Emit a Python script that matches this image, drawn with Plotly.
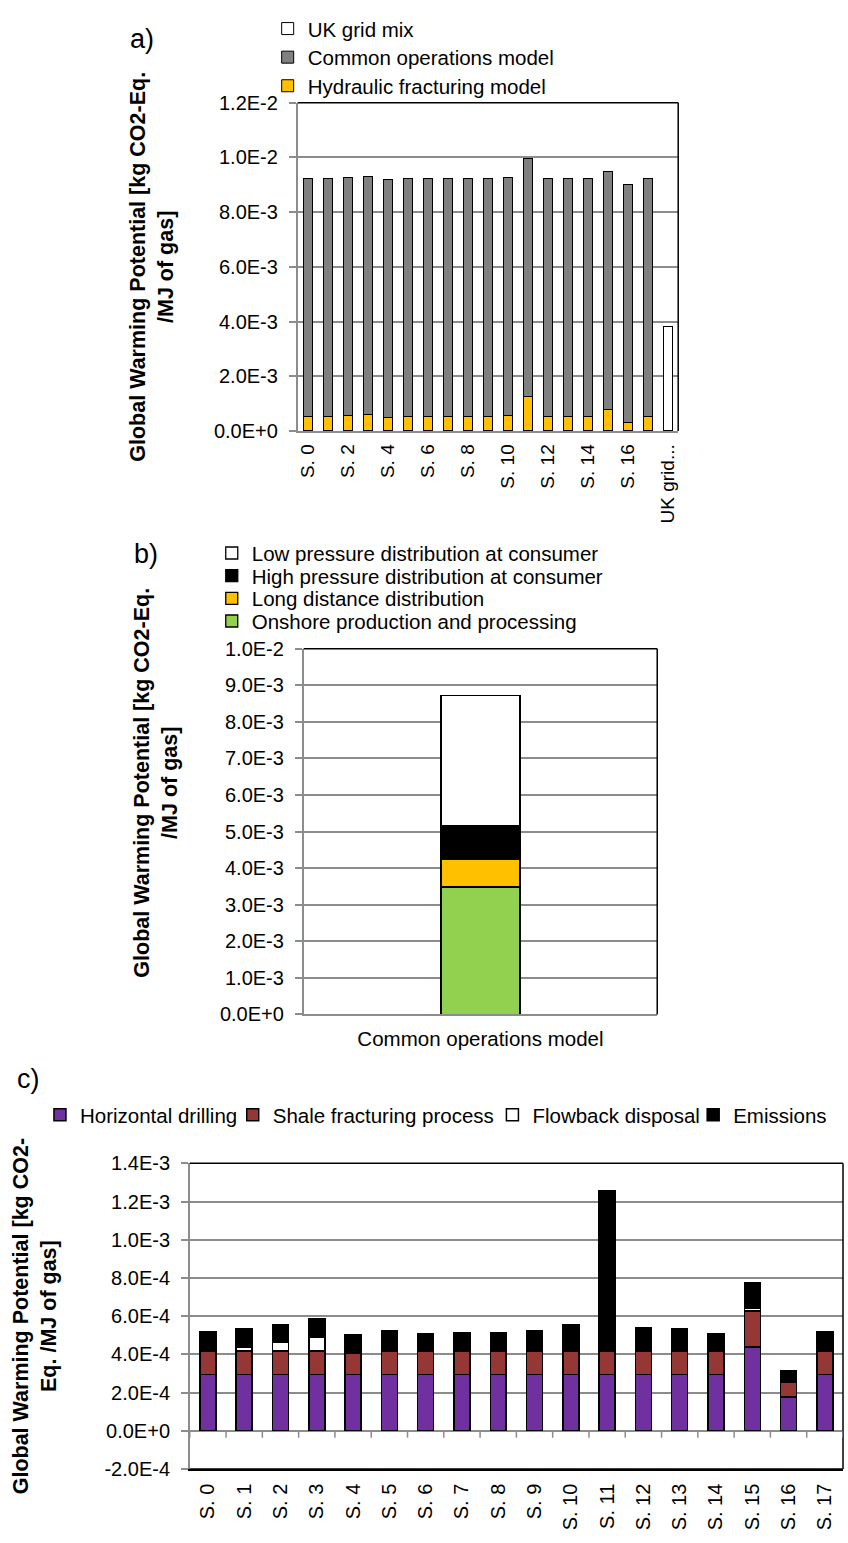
import plotly.graph_objects as go

W, H = 848, 1543
FONT = "Liberation Sans"
GRID = "#8c8c8c"

# ---------------- data: chart a ----------------
a_scenarios = ["S. 0", "S. 1", "S. 2", "S. 3", "S. 4", "S. 5", "S. 6", "S. 7", "S. 8",
               "S. 9", "S. 10", "S. 11", "S. 12", "S. 13", "S. 14", "S. 15", "S. 16", "S. 17"]
a_grid_cat = ["UK grid mix"]
a_hydraulic = [5.20e-4, 5.36e-4, 5.55e-4, 5.85e-4, 5.00e-4, 5.24e-4, 5.10e-4, 5.14e-4, 5.14e-4,
               5.24e-4, 5.53e-4, 1.257e-3, 5.39e-4, 5.34e-4, 5.10e-4, 7.76e-4, 3.16e-4, 5.25e-4]
a_common = [8.70e-3, 8.70e-3, 8.70e-3, 8.70e-3, 8.70e-3, 8.70e-3, 8.70e-3, 8.70e-3, 8.70e-3,
            8.70e-3, 8.70e-3, 8.70e-3, 8.70e-3, 8.70e-3, 8.70e-3, 8.70e-3, 8.70e-3, 8.70e-3]
a_ukgrid = [3.80e-3]
a_xtick_cats = ["S. 0", "S. 2", "S. 4", "S. 6", "S. 8", "S. 10", "S. 12", "S. 14", "S. 16", "UK grid mix"]
a_xtick_text = ["S. 0", "S. 2", "S. 4", "S. 6", "S. 8", "S. 10", "S. 12", "S. 14", "S. 16", "UK grid..."]
a_yticks = [0, 0.002, 0.004, 0.006, 0.008, 0.010, 0.012]
a_yticktext = ["0.0E+0", "2.0E-3", "4.0E-3", "6.0E-3", "8.0E-3", "1.0E-2", "1.2E-2"]

# ---------------- data: chart b ----------------
b_category = ["Common operations model"]
b_onshore = [3.49e-3]
b_longdist = [0.75e-3]
b_highp = [0.93e-3]
b_lowp = [3.56e-3]
b_yticks = [0, 0.001, 0.002, 0.003, 0.004, 0.005, 0.006, 0.007, 0.008, 0.009, 0.010]
b_yticktext = ["0.0E+0", "1.0E-3", "2.0E-3", "3.0E-3", "4.0E-3", "5.0E-3",
               "6.0E-3", "7.0E-3", "8.0E-3", "9.0E-3", "1.0E-2"]

# ---------------- data: chart c ----------------
c_scenarios = ["S. 0", "S. 1", "S. 2", "S. 3", "S. 4", "S. 5", "S. 6", "S. 7", "S. 8",
               "S. 9", "S. 10", "S. 11", "S. 12", "S. 13", "S. 14", "S. 15", "S. 16", "S. 17"]
c_drilling = [2.95e-4, 2.95e-4, 2.95e-4, 2.95e-4, 2.95e-4, 2.95e-4, 2.95e-4, 2.95e-4, 2.95e-4,
              2.95e-4, 2.95e-4, 2.95e-4, 2.95e-4, 2.95e-4, 2.95e-4, 4.38e-4, 1.77e-4, 2.95e-4]
c_fracturing = [1.22e-4, 1.22e-4, 1.22e-4, 1.22e-4, 1.22e-4, 1.22e-4, 1.22e-4, 1.22e-4, 1.22e-4,
                1.22e-4, 1.22e-4, 1.22e-4, 1.22e-4, 1.22e-4, 1.22e-4, 1.89e-4, 0.77e-4, 1.22e-4]
c_flowback = [0.05e-4, 0.20e-4, 0.44e-4, 0.73e-4, -0.10e-4, 0.05e-4, 0.0, 0.0, 0.0,
              0.05e-4, 0.05e-4, 0.05e-4, 0.05e-4, 0.05e-4, 0.05e-4, 0.15e-4, 0.0, 0.08e-4]
c_emissions = [0.98e-4, 0.99e-4, 0.94e-4, 0.95e-4, 0.93e-4, 1.02e-4, 0.93e-4, 0.97e-4, 0.97e-4,
               1.02e-4, 1.31e-4, 8.35e-4, 1.17e-4, 1.12e-4, 0.88e-4, 1.34e-4, 0.62e-4, 0.95e-4]
c_yticks = [-0.0002, 0, 0.0002, 0.0004, 0.0006, 0.0008, 0.0010, 0.0012, 0.0014]
c_yticktext = ["-2.0E-4", "0.0E+0", "2.0E-4", "4.0E-4", "6.0E-4", "8.0E-4", "1.0E-3", "1.2E-3", "1.4E-3"]

Y_TITLE_AB = "<b>Global Warming Potential [kg CO2-Eq.<br>/MJ of gas]</b>"
Y_TITLE_C = "<b>Global Warming Potential [kg CO2-<br>Eq. /MJ of gas]</b>"


def dx(p0, p1):
    return [p0 / W, p1 / W]


def dy(top, bottom):
    return [1 - bottom / H, 1 - top / H]


fig = go.Figure()
legends = {}


def legend_at(key, text_x, row_y, size):
    legends[key] = dict(x=(text_x - 36) / W, y=1 - row_y / H, xanchor="left", yanchor="middle",
                        font=dict(family=FONT, size=size, color="black"),
                        bgcolor="rgba(0,0,0,0)", borderwidth=0)


# ---- chart a traces ----
fig.add_trace(go.Bar(x=a_scenarios, y=a_hydraulic, name="Hydraulic fracturing model",
                     marker=dict(color="#FFC000", line=dict(color="black", width=1)),
                     width=0.45, xaxis="x", yaxis="y", legend="legend"))
fig.add_trace(go.Bar(x=a_scenarios, y=a_common, name="Common operations model",
                     marker=dict(color="#808080", line=dict(color="black", width=1)),
                     width=0.45, xaxis="x", yaxis="y", legend="legend2"))
fig.add_trace(go.Bar(x=a_grid_cat, y=a_ukgrid, name="UK grid mix",
                     marker=dict(color="white", line=dict(color="black", width=1)),
                     width=0.45, xaxis="x", yaxis="y", legend="legend3"))
legend_at("legend3", 303, 18, 20.5)
legend_at("legend2", 303, 47, 20.5)
legend_at("legend", 303, 76, 20.5)

# ---- chart b traces ----
b_rows = [619, 596, 573, 550]
for k, (vals, nm, col) in enumerate([(b_onshore, "Onshore production and processing", "#92D050"),
                                     (b_longdist, "Long distance distribution", "#FFC000"),
                                     (b_highp, "High pressure distribution at consumer", "#000000"),
                                     (b_lowp, "Low pressure distribution at consumer", "#FFFFFF")]):
    key = "legend%d" % (4 + k)
    fig.add_trace(go.Bar(x=b_category, y=vals, name=nm,
                         marker=dict(color=col, line=dict(color="black", width=1.3)),
                         width=0.223, xaxis="x2", yaxis="y2", legend=key))
    legend_at(key, 247, b_rows[k], 20.5)

# ---- chart c traces ----
c_text_x = [75, 268, 528, 729]
for k, (vals, nm, col) in enumerate([(c_drilling, "Horizontal drilling", "#7030A0"),
                                     (c_fracturing, "Shale fracturing process", "#953735"),
                                     (c_flowback, "Flowback disposal", "#FFFFFF"),
                                     (c_emissions, "Emissions", "#000000")]):
    key = "legend%d" % (8 + k)
    fig.add_trace(go.Bar(x=c_scenarios, y=vals, name=nm,
                         marker=dict(color=col, line=dict(color="black", width=1.5)),
                         width=0.44, xaxis="x3", yaxis="y3", legend=key))
    legend_at(key, c_text_x[k], 1120, 20.5)

tickfont = dict(family=FONT, size=20, color="black")
titlefont = dict(family=FONT, size=21.5, color="black")

a_all_cats = a_scenarios + a_grid_cat

fig.update_layout(
    width=W, height=H,
    margin=dict(l=0, r=0, t=0, b=0),
    paper_bgcolor="white", plot_bgcolor="white",
    barmode="stack",
    font=dict(family=FONT, color="black"),
    showlegend=True,
    # chart a
    xaxis=dict(domain=dx(297, 678), anchor="y", type="category",
               categoryorder="array", categoryarray=a_all_cats,
               range=[-0.5, len(a_all_cats) - 0.5],
               tickvals=a_xtick_cats, ticktext=a_xtick_text, tickangle=-90, ticklabelstandoff=4,
               ticks="", showgrid=False, showline=True, linecolor=GRID, linewidth=1.5,
               tickfont=dict(family=FONT, size=19, color="black")),
    yaxis=dict(domain=dy(93, 426), anchor="x", range=[0, 0.012],
               tickvals=a_yticks, ticktext=a_yticktext,
               ticks="outside", ticklen=7, tickcolor=GRID, tickwidth=1.5, ticklabelstandoff=7,
               showline=True, linecolor=GRID, linewidth=1.5,
               showgrid=True, gridcolor=GRID, gridwidth=1.5, zeroline=False,
               tickfont=tickfont,
               title=dict(text=Y_TITLE_AB, font=titlefont, standoff=34)),
    # chart b
    xaxis2=dict(domain=dx(303, 657), anchor="y2", type="category",
                range=[-0.5, 0.5], ticks="", showgrid=False, ticklabelstandoff=5,
                showline=True, linecolor=GRID, linewidth=1.5,
                tickfont=dict(family=FONT, size=20.5, color="black")),
    yaxis2=dict(domain=dy(647, 1018), anchor="x2", range=[0, 0.010],
                tickvals=b_yticks, ticktext=b_yticktext,
                ticks="outside", ticklen=7, tickcolor=GRID, tickwidth=1.5, ticklabelstandoff=7,
                showline=True, linecolor=GRID, linewidth=1.5,
                showgrid=True, gridcolor=GRID, gridwidth=1.5, zeroline=False,
                tickfont=tickfont),
    # chart c
    xaxis3=dict(domain=dx(189, 843), anchor="y3", type="category",
                categoryorder="array", categoryarray=c_scenarios,
                range=[-0.5, len(c_scenarios) - 0.5],
                tickangle=-90, ticks="", showgrid=False, ticklabelstandoff=5,
                showline=True, linecolor="black", linewidth=1.5, tickfont=tickfont),
    yaxis3=dict(domain=dy(1169, 1479), anchor="x3", range=[-0.0002, 0.0014],
                tickvals=c_yticks, ticktext=c_yticktext,
                ticks="outside", ticklen=7, tickcolor=GRID, tickwidth=1.5, ticklabelstandoff=7,
                showline=True, linecolor=GRID, linewidth=1.5,
                showgrid=True, gridcolor=GRID, gridwidth=1.5,
                zeroline=True, zerolinecolor=GRID, zerolinewidth=1.5,
                tickfont=tickfont,
                title=dict(text=Y_TITLE_C, font=titlefont, standoff=42)),
    **legends,
)

shapes = []
# black top and right borders (and bottom for c)
for xr, yr, sides in [("x", "y", ["top", "right"]), ("x2", "y2", ["top", "right"]),
                      ("x3", "y3", ["top", "right", "bottom"])]:
    for s in sides:
        if s == "top":
            c = (0, 1, 1, 1)
        elif s == "right":
            c = (1, 0, 1, 1)
        else:
            c = (0, 0, 1, 0)
        shapes.append(dict(type="line", xref=xr + " domain", yref=yr + " domain",
                           x0=c[0], y0=c[1], x1=c[2], y1=c[3],
                           line=dict(color="black", width=1.5), layer="above"))

# category boundary tick marks hanging from the zero line
for xr, yr, n in [("x", "y", len(a_all_cats)), ("x2", "y2", 1), ("x3", "y3", len(c_scenarios))]:
    for i in range(n + 1):
        shapes.append(dict(type="line", xref=xr, yref=yr, ysizemode="pixel", yanchor=0,
                           x0=i - 0.5, x1=i - 0.5, y0=0, y1=-7,
                           line=dict(color=GRID, width=1.5), layer="above"))

fig.update_layout(shapes=shapes)

# y title of chart b (placed higher than the axis centre, as in the original)
fig.add_annotation(text=Y_TITLE_AB, x=155 / W, y=1 - 783 / H, xref="paper", yref="paper",
                   textangle=-90, showarrow=False, xanchor="center", yanchor="middle",
                   font=titlefont)

panel_font = dict(family=FONT, size=27, color="black")
fig.add_annotation(text="a)", x=141 / W, y=1 - 28 / H, xref="paper", yref="paper",
                   showarrow=False, xanchor="center", yanchor="middle", font=panel_font)
fig.add_annotation(text="b)", x=145 / W, y=1 - 551 / H, xref="paper", yref="paper",
                   showarrow=False, xanchor="center", yanchor="middle", font=panel_font)
fig.add_annotation(text="c)", x=28 / W, y=1 - 1083 / H, xref="paper", yref="paper",
                   showarrow=False, xanchor="center", yanchor="middle", font=panel_font)

fig.write_html("out.html",
               config={"displayModeBar": False},
               post_script="document.documentElement.style.margin='0';"
                           "document.body.style.margin='0';"
                           "document.body.style.overflow='hidden';")
